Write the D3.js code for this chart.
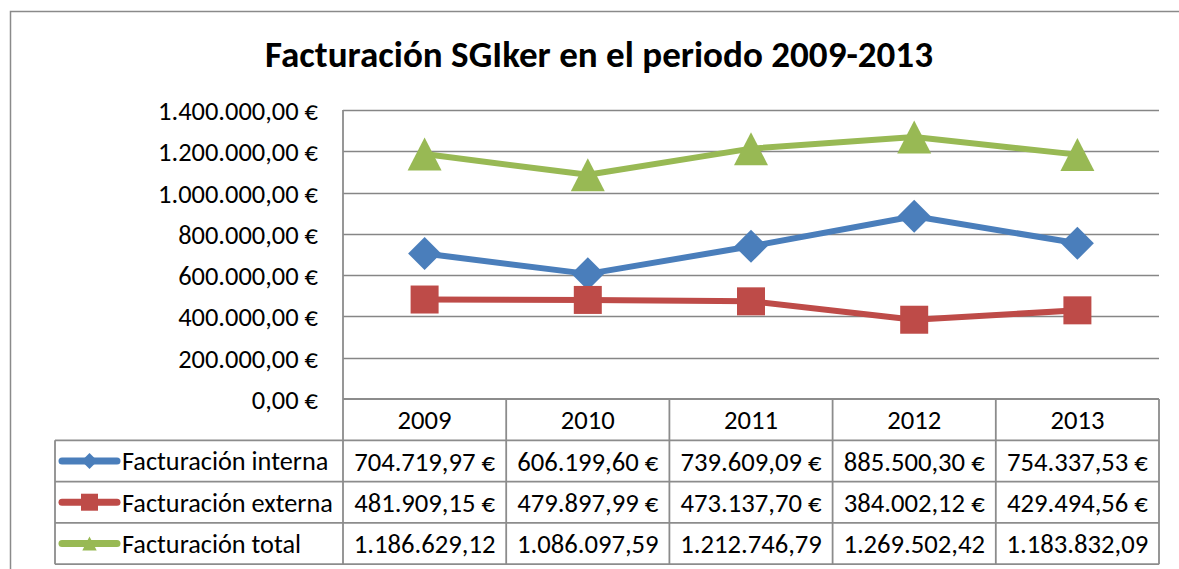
<!DOCTYPE html>
<html><head><meta charset="utf-8">
<script src="https://cdn.jsdelivr.net/npm/d3@7"></script>
<style>body{margin:0;background:#fff}svg{display:block}text{font-family:Carlito,Lato,"Noto Sans",sans-serif;fill:#000}</style>
</head><body>
<svg id="c" width="1179" height="569"></svg>
<script>
const title = "Facturación SGIker en el periodo 2009-2013";
const years = ["2009","2010","2011","2012","2013"];
const seriesNames = ["Facturación interna","Facturación externa","Facturación total"];
const interna = [704719.97, 606199.60, 739609.09, 885500.30, 754337.53];
const externa = [481909.15, 479897.99, 473137.70, 384002.12, 429494.56];
const total   = [1186629.12, 1086097.59, 1212746.79, 1269502.42, 1183832.09];
const yTicks = [0,200000,400000,600000,800000,1000000,1200000,1400000];
const euroSuffix = [true, true, false];
const colors = ["#4A7EBB","#BE4B48","#98B954"];

const loc = d3.formatLocale({decimal:",", thousands:".", grouping:[3], currency:["", " €"]});
const fmt = loc.format(",.2f");
const series = [interna, externa, total];

const svg = d3.select("#c");
svg.append("rect").attr("width",1179).attr("height",569).attr("fill","#fff");
// outer chart border
svg.append("rect").attr("x",10.5).attr("y",11.5).attr("width",1200).attr("height",600)
  .attr("fill","none").attr("stroke","#8a8a8a").attr("stroke-width",1.5);

const L = 343, R = 1159, T = 110, B = 399, rowH = (B - T) / 7;
const tableLeft = 55;
const x = d3.scaleBand().domain(years).range([L, R]);
const cx = d => x(d) + x.bandwidth()/2;
const y = d3.scaleLinear().domain([0, 1400000]).range([B, T]);

function fitSize(sel, sample, target, base){
  const t = svg.append("text").attr("font-size", base).text(sample);
  const w = t.node().getComputedTextLength(); t.remove();
  return base * target / w;
}

// title
const tfs = fitSize(svg, title, 668, 32);
svg.append("text").attr("x", 599).attr("y", 67).attr("text-anchor","middle")
  .attr("font-weight","bold").attr("font-size", tfs).text(title)
  .attr("font-size", function(){ // refine for bold
    this.setAttribute("font-size", 32);
    const w = this.getComputedTextLength(); return 32*668/w; });

// gridlines
const grid = svg.append("g");
grid.selectAll("line").data(yTicks.filter(d=>d>0)).join("line")
  .attr("x1", L).attr("x2", R).attr("y1", d=>Math.round(y(d))+0.5).attr("y2", d=>Math.round(y(d))+0.5)
  .attr("stroke","#868686").attr("stroke-width",1.5);

// y axis labels via d3 axis
const yfs = fitSize(svg, fmt(1400000)+" €", 160, 24);
const yAxis = d3.axisLeft(y).tickValues(yTicks).tickSize(0).tickPadding(0)
  .tickFormat(d => fmt(d) + " €");
const gy = svg.append("g").attr("transform", `translate(318,0)`).call(yAxis);
gy.select(".domain").remove();
gy.selectAll("text").attr("font-size", yfs).attr("fill","#000").attr("dy","0.36em")
  .style("font-family","Carlito,Lato,'Noto Sans',sans-serif");

// table grid
const tg = svg.append("g").attr("stroke","#8c8c8c").attr("stroke-width",1.8).attr("fill","none");
const rowYs = [B, B+rowH, B+2*rowH, B+3*rowH, B+4*rowH];
rowYs.forEach((ry,i)=>{
  tg.append("line").attr("x1", i===0?L:tableLeft).attr("x2", R).attr("y1", ry).attr("y2", ry);
});
tg.append("line").attr("x1", tableLeft).attr("x2", tableLeft).attr("y1", rowYs[1]).attr("y2", rowYs[4]);
tg.append("line").attr("x1", L).attr("x2", L).attr("y1", T).attr("y2", rowYs[4]);
years.forEach(yr=>{
  const xe = x(yr) + x.bandwidth();
  tg.append("line").attr("x1", xe).attr("x2", xe).attr("y1", B).attr("y2", rowYs[4]);
});

// header years
const vfs = fitSize(svg, "704.719,97 €", 141, 24);
svg.append("g").selectAll("text").data(years).join("text")
  .attr("x", d=>cx(d)).attr("y", B + rowH/2).attr("dy","0.36em").attr("text-anchor","middle")
  .attr("font-size", vfs).text(d=>d);

// values
series.forEach((s, si)=>{
  svg.append("g").selectAll("text").data(s).join("text")
    .attr("x", (d,i)=>cx(years[i])).attr("y", B + rowH*(si+1) + rowH/2).attr("dy","0.36em")
    .attr("text-anchor","middle").attr("font-size", vfs)
    .text(d => fmt(d) + (euroSuffix[si] ? " €" : ""));
});

// markers
const markerPath = [
  s => `M0,${-s}L${s},0L0,${s}L${-s},0Z`,
  s => `M${-s},${-s}H${s}V${s}H${-s}Z`,
  s => `M0,${-s}L${s*1.03},${s}L${-s*1.03},${s}Z`
];
const markerSize = [16.5, 14, 16.5];
const legendMarkerSize = [8, 8.5, 7];

// legend
const lfs = fitSize(svg, seriesNames[1], 211, 24);
seriesNames.forEach((n, si)=>{
  const ry = B + rowH*(si+1) + rowH/2;
  const g = svg.append("g");
  g.append("line").attr("x1", 62).attr("x2", 117).attr("y1", ry).attr("y2", ry)
    .attr("stroke", colors[si]).attr("stroke-width", 7).attr("stroke-linecap","round");
  g.append("path").attr("d", markerPath[si](legendMarkerSize[si]))
    .attr("transform", `translate(89.5,${ry})`).attr("fill", colors[si]);
  g.append("text").attr("x", 122).attr("y", ry).attr("dy","0.36em").attr("font-size", lfs).text(n);
});

// lines
const line = d3.line().x((d,i)=>cx(years[i])).y(d=>y(d));
series.forEach((s, si)=>{
  svg.append("path").datum(s).attr("d", line).attr("fill","none")
    .attr("stroke", colors[si]).attr("stroke-width", 6).attr("stroke-linejoin","round");
  svg.append("g").selectAll("path").data(s).join("path")
    .attr("d", markerPath[si](markerSize[si]))
    .attr("transform", (d,i)=>`translate(${cx(years[i])},${y(d)})`)
    .attr("fill", colors[si]);
});
</script>
</body></html>
